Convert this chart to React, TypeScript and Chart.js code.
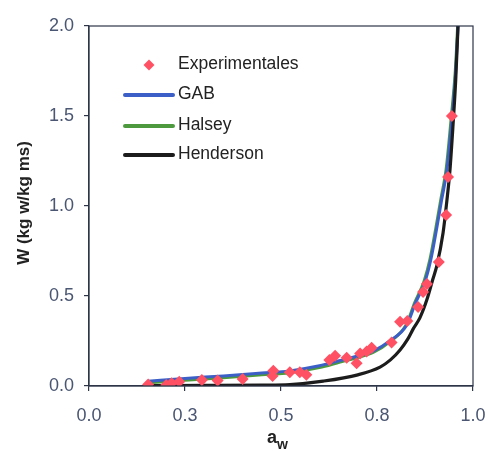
import React, { useEffect, useRef } from "react";
import { Chart, registerables } from "chart.js";

Chart.register(...registerables);

// ---- Data ----
const expX = [0.154, 0.201, 0.215, 0.235, 0.294, 0.335, 0.40, 0.48, 0.478, 0.523, 0.549, 0.566, 0.626, 0.641, 0.671, 0.697, 0.706, 0.723, 0.736, 0.788, 0.81, 0.829, 0.857, 0.870, 0.880, 0.911, 0.930, 0.935, 0.945];
const expY = [0.009, 0.006, 0.015, 0.024, 0.033, 0.030, 0.039, 0.085, 0.056, 0.076, 0.076, 0.063, 0.144, 0.168, 0.157, 0.126, 0.181, 0.191, 0.213, 0.241, 0.357, 0.361, 0.439, 0.522, 0.567, 0.689, 0.95, 1.161, 1.50];

const gabX = [0.154, 0.25, 0.35, 0.45, 0.523, 0.60, 0.654, 0.70, 0.74, 0.784, 0.828, 0.85, 0.875, 0.89, 0.905, 0.918, 0.932, 0.945, 0.955, 0.961];
const gabY = [0.026, 0.042, 0.056, 0.072, 0.084, 0.112, 0.142, 0.167, 0.194, 0.252, 0.340, 0.460, 0.580, 0.700, 0.870, 1.030, 1.200, 1.480, 1.750, 2.000];

const halseyX = [0.154, 0.25, 0.35, 0.45, 0.523, 0.60, 0.654, 0.70, 0.74, 0.784, 0.826, 0.848, 0.873, 0.888, 0.903, 0.916, 0.930, 0.943, 0.954, 0.960];
const halseyY = [0.018, 0.032, 0.046, 0.062, 0.074, 0.102, 0.133, 0.158, 0.186, 0.246, 0.340, 0.462, 0.585, 0.705, 0.875, 1.035, 1.205, 1.485, 1.755, 2.000];

const hendX = [0.154, 0.30, 0.45, 0.523, 0.61, 0.70, 0.758, 0.785, 0.81, 0.83, 0.845, 0.862, 0.88, 0.895, 0.906, 0.922, 0.932, 0.94, 0.948, 0.955, 0.961];
const hendY = [0.002, 0.003, 0.005, 0.008, 0.027, 0.062, 0.105, 0.145, 0.200, 0.260, 0.320, 0.380, 0.480, 0.590, 0.670, 0.850, 1.030, 1.200, 1.450, 1.700, 2.000];

const xTickLabels = ["0.0", "0.3", "0.5", "0.8", "1.0"];
const yTickLabels = ["0.0", "0.5", "1.0", "1.5", "2.0"];

const seriesNames = ["Experimentales", "GAB", "Halsey", "Henderson"];
const yTitle = "W (kg w/kg ms)";
const xTitleMain = "a";
const xTitleSub = "w";

const COLORS = {
  exp: "#ff5163",
  gab: "#3b5fc6",
  halsey: "#4d9a3e",
  hend: "#1c1c1c",
  axis: "#2e3548",
  tick: "#4a5672",
  text: "#222222",
};

const FONT = "'Liberation Sans', Arial, sans-serif";

const toPts = (xs: number[], ys: number[]) => xs.map((x, i) => ({ x, y: ys[i] }));

const overlayPlugin = {
  id: "overlay",
  afterDraw(chart: any) {
    const { ctx, chartArea } = chart;
    const { left, top, right, bottom } = chartArea;
    ctx.save();
    // frame
    ctx.strokeStyle = COLORS.axis;
    ctx.lineWidth = 1.2;
    ctx.strokeRect(left, top, right - left, bottom - top);

    // legend
    const lx0 = left + 36;
    const lx1 = left + 84;
    const tx = left + 89;
    const rows = [top + 38, top + 68, top + 99, top + 128];
    ctx.font = `17.5px ${FONT}`;
    ctx.textBaseline = "middle";
    ctx.textAlign = "left";
    // diamond
    ctx.fillStyle = COLORS.exp;
    const dx = left + 60, dy = rows[0] + 1, r = 5.5;
    ctx.beginPath();
    ctx.moveTo(dx, dy - r);
    ctx.lineTo(dx + r, dy);
    ctx.lineTo(dx, dy + r);
    ctx.lineTo(dx - r, dy);
    ctx.closePath();
    ctx.fill();
    const lineCols = [COLORS.gab, COLORS.halsey, COLORS.hend];
    for (let i = 1; i < 4; i++) {
      ctx.strokeStyle = lineCols[i - 1];
      ctx.lineWidth = 4;
      ctx.lineCap = "round";
      ctx.beginPath();
      ctx.moveTo(lx0, rows[i] + 1);
      ctx.lineTo(lx1, rows[i] + 1);
      ctx.stroke();
    }
    ctx.fillStyle = COLORS.text;
    for (let i = 0; i < 4; i++) {
      ctx.fillText(seriesNames[i], tx, rows[i]);
    }

    // y title
    ctx.save();
    ctx.translate(24, (top + bottom) / 2 - 3);
    ctx.rotate(-Math.PI / 2);
    ctx.font = `bold 17px ${FONT}`;
    ctx.textAlign = "center";
    ctx.textBaseline = "middle";
    ctx.fillStyle = COLORS.text;
    ctx.fillText(yTitle, 0, 0);
    ctx.restore();

    // x title with subscript
    ctx.font = `bold 18px ${FONT}`;
    ctx.textBaseline = "alphabetic";
    ctx.textAlign = "left";
    ctx.fillStyle = COLORS.text;
    const aW = ctx.measureText(xTitleMain).width;
    ctx.fillText(xTitleMain, 267, 443);
    ctx.font = `bold 14px ${FONT}`;
    ctx.fillText(xTitleSub, 267 + aW, 449);
    ctx.restore();
  },
};

export default function App() {
  const ref = useRef<HTMLCanvasElement>(null);
  useEffect(() => {
    if (!ref.current) return;
    const chart = new Chart(ref.current, {
      type: "scatter",
      data: {
        datasets: [
          {
            label: seriesNames[0],
            data: toPts(expX, expY),
            pointStyle: "rectRot",
            pointRadius: 6,
            pointBackgroundColor: COLORS.exp,
            pointBorderWidth: 0,
            borderColor: COLORS.exp,
            showLine: false,
            order: 0,
          },
          {
            label: seriesNames[3],
            data: toPts(hendX, hendY),
            showLine: true,
            borderColor: COLORS.hend,
            borderWidth: 3.2,
            pointRadius: 0,
            cubicInterpolationMode: "monotone",
            order: 1,
          },
          {
            label: seriesNames[1],
            data: toPts(gabX, gabY),
            showLine: true,
            borderColor: COLORS.gab,
            borderWidth: 3,
            pointRadius: 0,
            cubicInterpolationMode: "monotone",
            order: 2,
          },
          {
            label: seriesNames[2],
            data: toPts(halseyX, halseyY),
            showLine: true,
            borderColor: COLORS.halsey,
            borderWidth: 3,
            pointRadius: 0,
            cubicInterpolationMode: "monotone",
            order: 3,
          },
        ],
      },
      options: {
        animation: false,
        responsive: false,
        maintainAspectRatio: false,
        layout: { padding: { left: 0, top: 26, right: 2, bottom: 0 } },
        plugins: {
          legend: { display: false },
          tooltip: { enabled: false },
        },
        scales: {
          x: {
            type: "linear",
            min: 0,
            max: 1,
            afterBuildTicks: (s: any) => {
              s.ticks = xTickLabels.map((_, i) => ({ value: i * 0.25 }));
            },
            afterFit: (s: any) => {
              s.height = 65;
              s.paddingRight = 15;
            },
            ticks: {
              callback: (_v: any, i: number) => xTickLabels[i],
              font: { size: 18, family: FONT },
              color: COLORS.tick,
              padding: 14,
              maxRotation: 0,
              autoSkip: false,
            },
            grid: {
              drawOnChartArea: false,
              drawTicks: true,
              tickLength: 5,
              color: COLORS.axis,
              lineWidth: 1.2,
            },
            border: { display: true, color: COLORS.axis, width: 1.2 },
          },
          y: {
            type: "linear",
            min: 0,
            max: 2,
            afterBuildTicks: (s: any) => {
              s.ticks = yTickLabels.map((_, i) => ({ value: i * 0.5 }));
            },
            afterFit: (s: any) => {
              s.width = 89;
            },
            ticks: {
              callback: (_v: any, i: number) => yTickLabels[i],
              font: { size: 18, family: FONT },
              color: COLORS.tick,
              padding: 10,
              autoSkip: false,
            },
            grid: {
              drawOnChartArea: false,
              drawTicks: true,
              tickLength: 5,
              color: COLORS.axis,
              lineWidth: 1.2,
            },
            border: { display: true, color: COLORS.axis, width: 1.2 },
          },
        },
      },
      plugins: [overlayPlugin],
    } as any);
    return () => chart.destroy();
  }, []);

  return (
    <div style={{ position: "fixed", left: 0, top: 0, width: 488, height: 451, background: "#fff" }}>
      <canvas ref={ref} width={488} height={451} style={{ width: 488, height: 451, display: "block" }} />
    </div>
  );
}
